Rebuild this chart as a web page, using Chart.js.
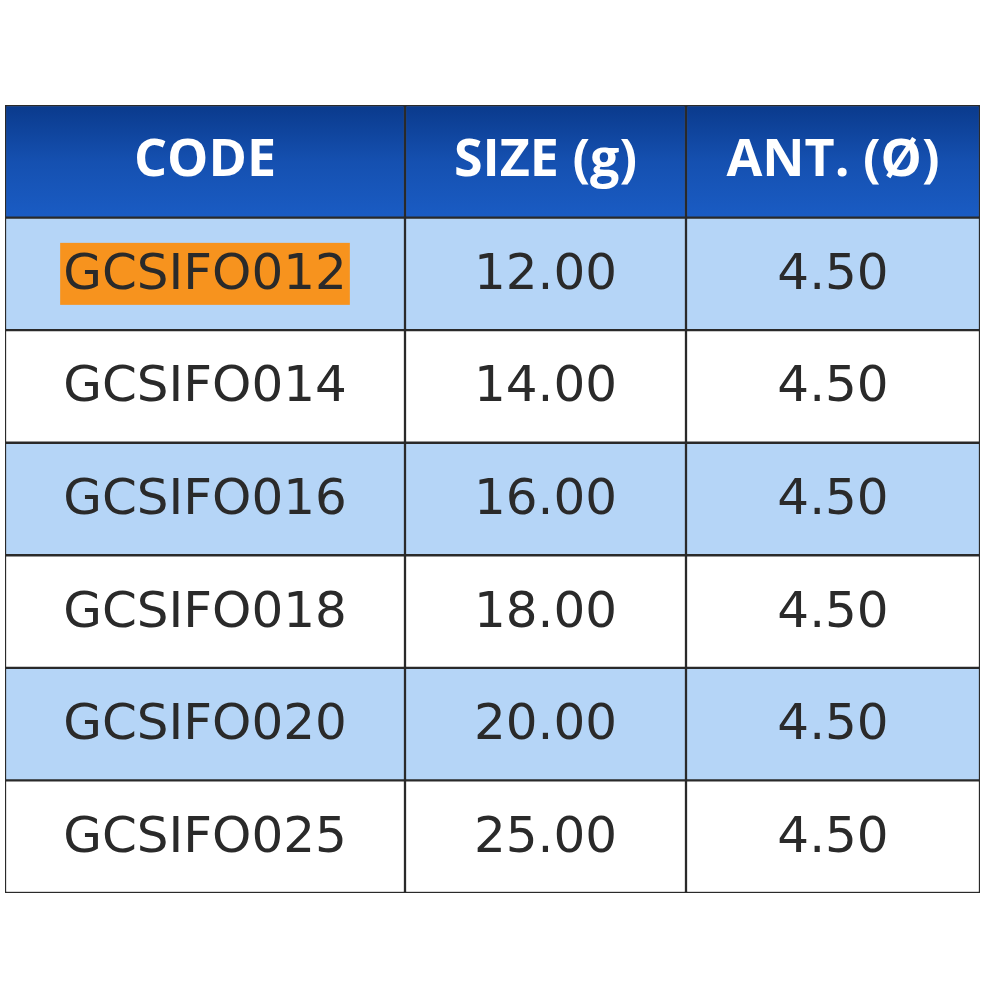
<!DOCTYPE html>
<html>
<head>
<meta charset="utf-8">
<script src="https://cdn.jsdelivr.net/npm/chart.js@4/dist/chart.umd.min.js"></script>
<style>
  html, body { margin: 0; padding: 0; background: #fff; }
  #wrap { width: 1000px; height: 1000px; }
</style>
</head>
<body>
<div id="wrap"><canvas id="table"></canvas></div>
<script>
// table content
const headers = ["CODE", "SIZE (g)", "ANT. (Ø)"];
const codes = ["GCSIFO012", "GCSIFO014", "GCSIFO016", "GCSIFO018", "GCSIFO020", "GCSIFO025"];
const sizes = ["12.00", "14.00", "16.00", "18.00", "20.00", "25.00"];
const antennas = ["4.50", "4.50", "4.50", "4.50", "4.50", "4.50"];
const highlighted = ["GCSIFO012"];

// relative column widths
const colWidths = [400, 281, 294];

const rows = ["header"].concat(codes);
const cellText = [codes, sizes, antennas];

let edges = [0];
colWidths.forEach(w => edges.push(edges[edges.length - 1] + w));

function rowColor(ctx) {
  const i = ctx.dataIndex;
  if (i === 0) {
    const area = ctx.chart.chartArea;
    if (!area) return "#0d47a1";
    const yScale = ctx.chart.scales.y;
    const h = yScale.getPixelForValue(1) - yScale.getPixelForValue(0);
    const top = yScale.getPixelForValue(0) - h / 2;
    const g = ctx.chart.ctx.createLinearGradient(0, top, 0, top + h);
    g.addColorStop(0, "#0a3a8c");
    g.addColorStop(0.5, "#1550b0");
    g.addColorStop(1, "#1a5cc4");
    return g;
  }
  return i % 2 === 1 ? "#b5d5f7" : "#ffffff";
}

const datasets = colWidths.map((w, c) => ({
  label: headers[c],
  data: rows.map(() => [edges[c], edges[c + 1]]),
  backgroundColor: rowColor,
  borderColor: "#2a2a2a",
  borderWidth: 1.5,
  borderSkipped: false,
  grouped: false,
  barPercentage: 1,
  categoryPercentage: 1
}));

const textPlugin = {
  id: "cellText",
  afterDatasetsDraw(chart) {
    const ctx = chart.ctx;
    const x = chart.scales.x, y = chart.scales.y;
    ctx.save();
    ctx.textBaseline = "middle";
    ctx.textAlign = "center";
    rows.forEach((r, ri) => {
      const cy = y.getPixelForValue(ri);
      colWidths.forEach((w, c) => {
        const cx = x.getPixelForValue((edges[c] + edges[c + 1]) / 2);
        if (ri === 0) {
          ctx.font = "bold 52px 'Open Sans'";
          ctx.fillStyle = "#ffffff";
          ctx.fillText(headers[c], cx, cy);
        } else {
          const t = cellText[c][ri - 1];
          ctx.font = "50px 'DejaVu Sans'";
          if (c === 0 && highlighted.includes(t)) {
            const tw = ctx.measureText(t).width;
            ctx.fillStyle = "#f7931e";
            ctx.fillRect(cx - tw / 2 - 3, cy - 31, tw + 6, 62);
          }
          ctx.fillStyle = "#2a2a2a";
          ctx.fillText(t, cx, cy + 2);
        }
      });
    });
    ctx.restore();
  }
};

new Chart(document.getElementById("table"), {
  type: "bar",
  data: { labels: rows, datasets: datasets },
  options: {
    indexAxis: "y",
    responsive: true,
    maintainAspectRatio: false,
    animation: false,
    layout: { padding: { left: 5, right: 20, top: 105, bottom: 107 } },
    plugins: { legend: { display: false }, tooltip: { enabled: false } },
    scales: {
      x: { type: "linear", min: 0, max: edges[edges.length - 1], display: false },
      y: { type: "category", display: false, offset: true }
    }
  },
  plugins: [textPlugin]
});
</script>
</body>
</html>
